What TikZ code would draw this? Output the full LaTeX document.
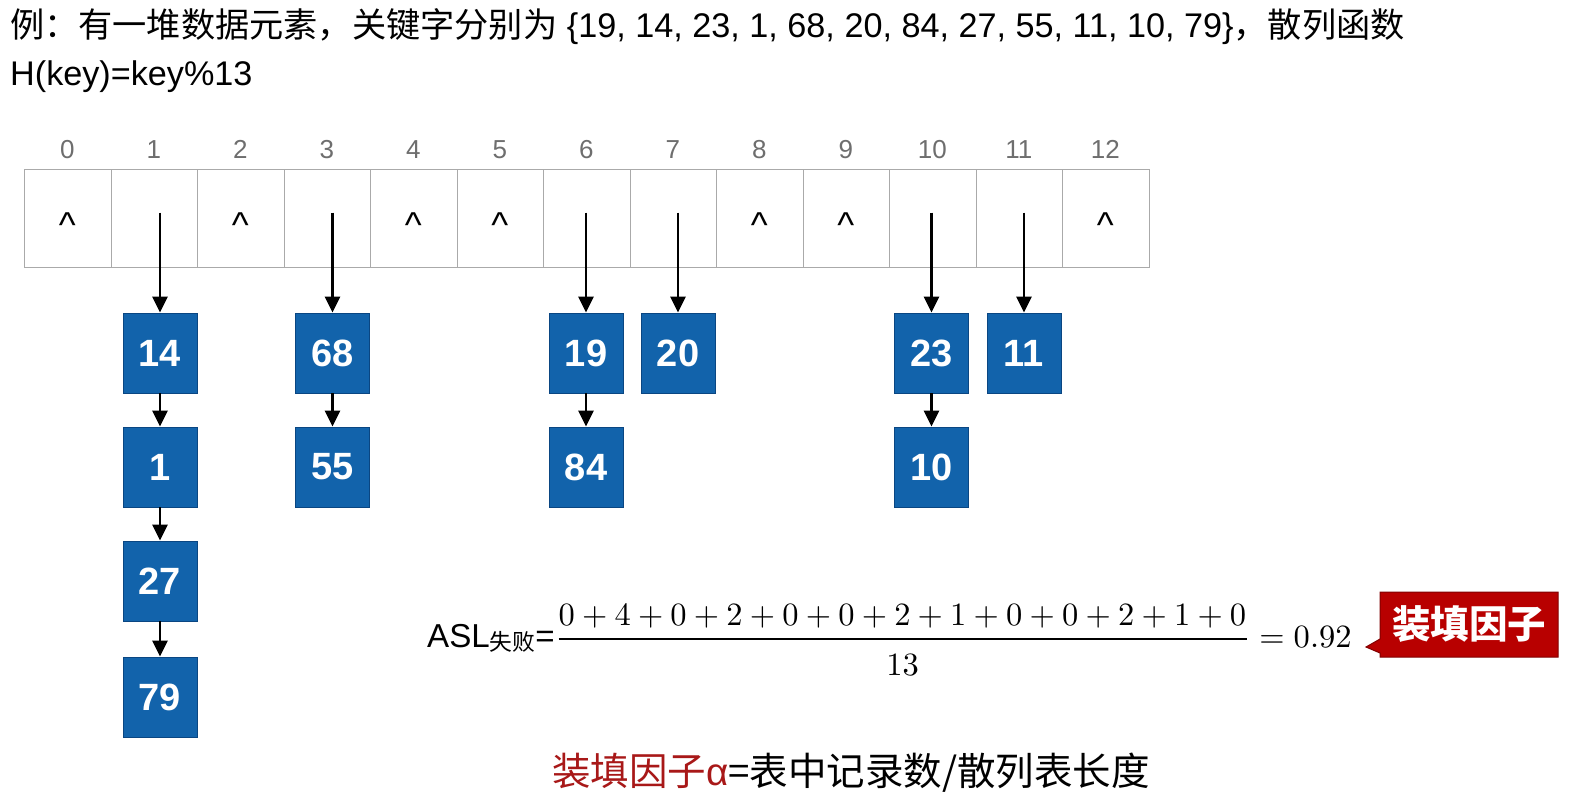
\documentclass[tikz,border=0pt]{standalone}
\usepackage{amsmath}
\usepackage{graphicx}
\usepackage[no-math]{fontspec}
\setmainfont{Liberation Sans}
\newfontfamily\cjkf{Noto Sans CJK SC}
\usetikzlibrary{arrows.meta}
\definecolor{boxblue}{RGB}{18,99,171}
\definecolor{boxedge}{RGB}{10,70,130}
\definecolor{calred}{RGB}{184,0,0}
\definecolor{caledge}{RGB}{130,0,0}
\definecolor{txtred}{RGB}{168,24,24}
\definecolor{lblgray}{RGB}{110,110,110}
\definecolor{gridgray}{RGB}{170,170,170}
\begin{document}
\begin{tikzpicture}[x=1pt,y=-1pt,
  cell/.style={draw=gridgray, line width=1.2pt, minimum width=86.5pt, minimum height=98pt, inner sep=0pt, anchor=north west},
  lbl/.style={text=lblgray, font=\fontsize{26}{30}\selectfont, inner sep=0pt, anchor=base},
  caret/.style={anchor=base, inner sep=0pt, font=\fontsize{36}{40}\selectfont},
  item/.style={draw=boxedge, line width=0.8pt, fill=boxblue, minimum width=74pt, minimum height=80pt, inner sep=0pt, text=white, font=\fontsize{38}{42}\selectfont\bfseries},
  arr/.style={line width=2.7pt, -{Triangle[width=15pt,length=16pt]}},
  hdr/.style={anchor=base west, inner sep=0pt, font=\fontsize{34.2}{40}\selectfont},
]
\useasboundingbox (0,0) rectangle (1580,795);
\fill[white] (0,0) rectangle (1580,795);

% header
\node[hdr] (t1) at (10,37) {{\cjkf 例：有一堆数据元素，关键字分别为} \{19, 14, 23, 1, 68, 20, 84, 27, 55, 11, 10, 79\}{\cjkf ，散列函数}};
\node[hdr] (t2) at (10,85) {H(key)=key\%13};

% table cells and index labels
\foreach \i in {0,...,12} {
  \node[cell] (c\i) at ({24+86.5*\i},169) {};
  \node[lbl] (l\i) at ({67.25+86.5*\i},158) {\i};
}
% null pointers
\foreach \i in {0,2,4,5,8,9,12} {
  \node[caret] (h\i) at ({67.25+86.5*\i},237) {\textasciicircum};
}

% chained items
\node[item] (b14) at (160,353) {14};
\node[item] (b1)  at (160,467) {1};
\node[item] (b27) at (160,581) {27};
\node[item] (b79) at (160,697) {79};
\node[item] (b68) at (332.5,353) {68};
\node[item] (b55) at (332.5,467) {55};
\node[item] (b19) at (586,353) {19};
\node[item] (b84) at (586,467) {84};
\node[item] (b20) at (678,353) {20};
\node[item] (b23) at (931.5,353) {23};
\node[item] (b10) at (931.5,467) {10};
\node[item] (b11) at (1024,353) {11};

% pointers from table
\draw[arr] (b14 |- c1) ++(0,-6) -- (b14.north);
\draw[arr] (b68 |- c3) ++(0,-6) -- (b68.north);
\draw[arr] (b19 |- c6) ++(0,-6) -- (b19.north);
\draw[arr] (b20 |- c7) ++(0,-6) -- (b20.north);
\draw[arr] (b23 |- c10) ++(0,-6) -- (b23.north);
\draw[arr] (b11 |- c11) ++(0,-6) -- (b11.north);
% chain links
\draw[arr] (b14) -- (b1);
\draw[arr] (b1) -- (b27);
\draw[arr] (b27) -- (b79);
\draw[arr] (b68) -- (b55);
\draw[arr] (b19) -- (b84);
\draw[arr] (b23) -- (b10);

% formula
\node[anchor=base west, inner sep=0pt] (asl) at (427,647) {\scalebox{3.25}{{\fontsize{10.2}{12}\selectfont ASL}\raisebox{-1.2pt}{\cjkf\fontsize{7}{8}\selectfont 失败}{\fontsize{10.2}{12}\selectfont =}\fontsize{10}{12}\selectfont$\dfrac{0+4+0+2+0+0+2+1+0+0+2+1+0}{\raisebox{-2pt}{$13$}}=0.92$}};

% callout
\path[fill=calred, draw=caledge, line width=1pt] (1380,592) -- (1558,592) -- (1558,657) -- (1380,657) -- (1380,653) -- (1366,647) -- (1380,639) -- cycle;
\node[text=white, inner sep=0pt, font=\cjkf\bfseries\fontsize{38.5}{42}\selectfont] (cf) at (1469,624) {装填因子};

% bottom definition
\node[anchor=base west, inner sep=0pt, font=\fontsize{38.5}{44}\selectfont] (def) at (552,785) {{\color{txtred}\cjkf 装填因子}{\color{txtred}α}{\cjkf =表中记录数/散列表长度}};
\end{tikzpicture}
\end{document}
